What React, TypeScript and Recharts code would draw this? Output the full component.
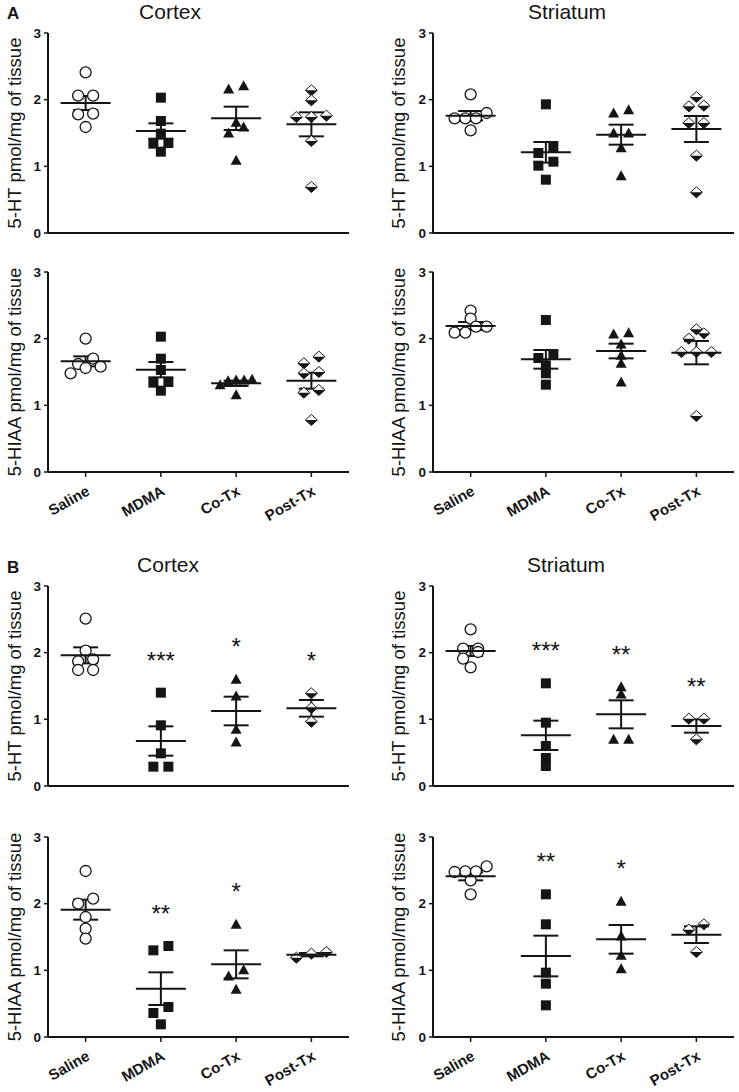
import React from 'react';
import { ScatterChart, Scatter, XAxis, YAxis, ErrorBar } from 'recharts';

document.body.style.margin = '0';

const INK = '#151515';
const FONT = '"Liberation Sans", Arial, sans-serif';

const GROUPS = ['Saline', 'MDMA', 'Co-Tx', 'Post-Tx'];
const Y_TICKS = [0, 1, 2, 3];

// A: cortex 5-HT
const aCortexHT = [
  [2.41, 2.06, 2.06, 1.79, 1.78, 1.59],
  [2.03, 1.68, 1.49, 1.35, 1.34, 1.22],
  [2.16, 2.21, 1.59, 1.66, 1.5, 1.09],
  [2.14, 1.99, 1.76, 1.74, 1.74, 1.38, 0.69],
];
const aCortexHTMean = [1.95, 1.53, 1.72, 1.63];
const aCortexHTSem = [0.105, 0.115, 0.175, 0.18];

// A: striatum 5-HT
const aStriatumHT = [
  [2.08, 1.8, 1.72, 1.72, 1.72, 1.54],
  [1.93, 1.28, 1.2, 1.07, 1.01, 0.8],
  [1.8, 1.85, 1.5, 1.5, 1.28, 0.86],
  [1.91, 1.9, 2.04, 1.65, 1.65, 1.16, 0.61],
];
const aStriatumHTMean = [1.76, 1.21, 1.475, 1.56];
const aStriatumHTSem = [0.07, 0.155, 0.15, 0.195];

// A: cortex 5-HIAA
const aCortexHIAA = [
  [2.0, 1.7, 1.62, 1.58, 1.56, 1.48],
  [2.03, 1.7, 1.53, 1.35, 1.34, 1.22],
  [1.38, 1.39, 1.37, 1.38, 1.31, 1.16],
  [1.63, 1.73, 1.48, 1.5, 1.23, 1.19, 0.78],
];
const aCortexHIAAMean = [1.66, 1.535, 1.33, 1.37];
const aCortexHIAASem = [0.075, 0.115, 0.04, 0.12];

// A: striatum 5-HIAA
const aStriatumHIAA = [
  [2.42, 2.3, 2.18, 2.18, 2.09, 2.09],
  [2.28, 1.71, 1.76, 1.6, 1.48, 1.31],
  [2.09, 2.07, 1.92, 1.75, 1.63, 1.35],
  [2.0, 2.08, 2.14, 1.8, 1.8, 1.8, 0.84],
];
const aStriatumHIAAMean = [2.19, 1.69, 1.815, 1.79];
const aStriatumHIAASem = [0.06, 0.14, 0.11, 0.175];

// B: cortex 5-HT
const bCortexHT = [
  [2.51, 2.03, 1.9, 1.87, 1.74, 1.74],
  [1.4, 0.91, 0.49, 0.29, 0.29],
  [1.6, 1.35, 0.85, 0.66],
  [1.39, 1.17, 0.965],
];
const bCortexHTMean = [1.96, 0.675, 1.125, 1.165];
const bCortexHTSem = [0.12, 0.22, 0.215, 0.125];
const bCortexHTSig = ['', '***', '*', '*'];

// B: striatum 5-HT
const bStriatumHT = [
  [2.35, 2.06, 2.06, 2.01, 1.91, 1.78],
  [1.54, 0.95, 0.6, 0.42, 0.3],
  [1.49, 1.38, 0.7, 0.7],
  [1.01, 1.01, 0.7],
];
const bStriatumHTMean = [2.025, 0.76, 1.075, 0.9];
const bStriatumHTSem = [0.075, 0.22, 0.21, 0.1];
const bStriatumHTSig = ['', '***', '**', '**'];

// B: cortex 5-HIAA
const bCortexHIAA = [
  [2.49, 2.075, 2.0, 1.8, 1.625, 1.475],
  [1.365, 1.3, 0.45, 0.36, 0.19],
  [1.69, 1.01, 0.915, 0.715],
  [1.275, 1.19, 1.25],
];
const bCortexHIAAMean = [1.91, 0.725, 1.09, 1.235];
const bCortexHIAASem = [0.15, 0.245, 0.21, 0.025];
const bCortexHIAASig = ['', '**', '*', ''];

// B: striatum 5-HIAA
const bStriatumHIAA = [
  [2.56, 2.485, 2.475, 2.485, 2.35, 2.14],
  [2.14, 1.69, 0.965, 0.8, 0.475],
  [2.035, 1.515, 1.225, 1.025],
  [1.69, 1.61, 1.275],
];
const bStriatumHIAAMean = [2.41, 1.215, 1.465, 1.535];
const bStriatumHIAASem = [0.06, 0.305, 0.215, 0.125];
const bStriatumHIAASig = ['', '**', '*', ''];

// layout
const PLOT_W = 301;
const PLOT_H = 200;
const AXIS_W = 48;
const MT = 12;
const XH = 64;
const PX_PER_UNIT = PLOT_H / 3;

// scatter-dot spreading: points of similar value share a row, centred on the group
function spread(vals: number[]): number[] {
  const order = vals.map((_, i) => i).sort((a, b) => vals[a] - vals[b]);
  const dx = vals.map(() => 0);
  let row: number[] = [];
  const flush = () => {
    const n = row.length;
    const step = n > 1 ? Math.min(15, 32 / (n - 1)) : 0;
    row.forEach((idx, k) => {
      dx[idx] = (k - (n - 1) / 2) * step;
    });
    row = [];
  };
  order.forEach((i) => {
    if (row.length && (vals[i] - vals[row[0]]) * PX_PER_UNIT > 7) flush();
    row.push(i);
  });
  flush();
  return dx;
}

const Marker = ({ kind, x, y }: { kind: number; x: number; y: number }) => {
  if (kind === 0) return <circle cx={x} cy={y} r={5.5} fill="#fff" stroke={INK} strokeWidth={1.3} />;
  if (kind === 1) return <rect x={x - 5} y={y - 5} width={10} height={10} fill={INK} />;
  if (kind === 2) return <polygon points={`${x},${y - 5.5} ${x + 5.5},${y + 4.5} ${x - 5.5},${y + 4.5}`} fill={INK} />;
  return (
    <g>
      <polygon
        points={`${x},${y - 5.5} ${x + 6},${y} ${x},${y + 5.5} ${x - 6},${y}`}
        fill="#fff"
        stroke={INK}
        strokeWidth={1}
      />
      <polygon points={`${x - 6},${y} ${x + 6},${y} ${x},${y + 5.5}`} fill={INK} />
    </g>
  );
};

const GroupTick = (props: any) => {
  const { x, y, payload } = props;
  const label = GROUPS[Math.round(payload.value - 0.5)];
  const ax = x + 5;
  const ay = y + 15;
  return (
    <text
      x={ax}
      y={ay}
      textAnchor="end"
      transform={`rotate(-30 ${ax} ${ay})`}
      fontFamily={FONT}
      fontWeight="bold"
      fontSize={15}
      fill={INK}
    >
      {label}
    </text>
  );
};

type PanelProps = {
  left: number;
  top: number;
  points: number[][];
  mean: number[];
  sem: number[];
  sig?: string[];
  labels: boolean;
};

const Panel = ({ left, top, points, mean, sem, sig, labels }: PanelProps) => {
  const series = points.map((vals, g) => {
    const dx = spread(vals);
    return vals.map((v, i) => ({ x: g + 0.5, y: v, dx: dx[i] }));
  });
  const means = mean.map((m, g) => ({ x: g + 0.5, y: m, sem: sem[g] }));
  const stars = (sig || [])
    .map((s, g) => ({ x: g + 0.5, y: Math.max(...points[g]) + 0.57, label: s }))
    .filter((d) => d.label);

  return (
    <div style={{ position: 'absolute', left, top: top - MT }}>
      <ScatterChart
        width={AXIS_W + PLOT_W + 4}
        height={MT + PLOT_H + XH + 2}
        margin={{ top: MT, right: 4, bottom: 2, left: 0 }}
      >
        <XAxis
          type="number"
          dataKey="x"
          domain={[0, 4]}
          ticks={[0.5, 1.5, 2.5, 3.5]}
          height={XH}
          tickSize={5}
          axisLine={{ stroke: INK, strokeWidth: 2 }}
          tickLine={{ stroke: INK, strokeWidth: 1.5 }}
          tick={labels ? <GroupTick /> : false}
          interval={0}
        />
        <YAxis
          type="number"
          dataKey="y"
          domain={[0, 3]}
          ticks={Y_TICKS}
          allowDataOverflow
          width={AXIS_W}
          tickSize={4}
          tickMargin={3}
          axisLine={{ stroke: INK, strokeWidth: 2 }}
          tickLine={{ stroke: INK, strokeWidth: 1.5 }}
          tick={{ fontFamily: FONT, fontWeight: 'bold', fontSize: 13.5, fill: INK }}
        />
        {series.map((data, g) => (
          <Scatter
            key={g}
            data={data}
            isAnimationActive={false}
            shape={(p: any) => <Marker kind={g} x={p.cx + p.payload.dx} y={p.cy} />}
          />
        ))}
        <Scatter
          data={means}
          isAnimationActive={false}
          shape={(p: any) => (
            <line x1={p.cx - 25} x2={p.cx + 25} y1={p.cy} y2={p.cy} stroke={INK} strokeWidth={2} />
          )}
        >
          <ErrorBar dataKey="sem" direction="y" width={12.5} stroke={INK} strokeWidth={2} />
        </Scatter>
        {stars.length > 0 && (
          <Scatter
            data={stars}
            isAnimationActive={false}
            shape={(p: any) => (
              <text x={p.cx} y={p.cy + 14} textAnchor="middle" fontFamily={FONT} fontSize={24} fill={INK}>
                {p.payload.label}
              </text>
            )}
          />
        )}
      </ScatterChart>
    </div>
  );
};

const YLabel = ({ x, y, text }: { x: number; y: number; text: string }) => (
  <text
    x={x}
    y={y}
    transform={`rotate(-90 ${x} ${y})`}
    textAnchor="middle"
    dominantBaseline="central"
    fontFamily={FONT}
    fontSize={18.5}
    fill={INK}
  >
    {text}
  </text>
);

const Title = ({ x, y, text }: { x: number; y: number; text: string }) => (
  <text x={x} y={y} textAnchor="middle" fontFamily={FONT} fontSize={21} fill={INK}>
    {text}
  </text>
);

const LEFT_X = 0;
const RIGHT_X = 385;
const ROWS = [33, 272, 586, 837];
const HT_LABEL = '5-HT pmol/mg of tissue';
const HIAA_LABEL = '5-HIAA pmol/mg of tissue';

export default function App() {
  return (
    <div style={{ position: 'relative', width: 739, height: 1092, overflow: 'hidden', background: '#fff' }}>
      <Panel left={LEFT_X} top={ROWS[0]} points={aCortexHT} mean={aCortexHTMean} sem={aCortexHTSem} labels={false} />
      <Panel left={RIGHT_X} top={ROWS[0]} points={aStriatumHT} mean={aStriatumHTMean} sem={aStriatumHTSem} labels={false} />
      <Panel left={LEFT_X} top={ROWS[1]} points={aCortexHIAA} mean={aCortexHIAAMean} sem={aCortexHIAASem} labels />
      <Panel left={RIGHT_X} top={ROWS[1]} points={aStriatumHIAA} mean={aStriatumHIAAMean} sem={aStriatumHIAASem} labels />
      <Panel left={LEFT_X} top={ROWS[2]} points={bCortexHT} mean={bCortexHTMean} sem={bCortexHTSem} sig={bCortexHTSig} labels={false} />
      <Panel left={RIGHT_X} top={ROWS[2]} points={bStriatumHT} mean={bStriatumHTMean} sem={bStriatumHTSem} sig={bStriatumHTSig} labels={false} />
      <Panel left={LEFT_X} top={ROWS[3]} points={bCortexHIAA} mean={bCortexHIAAMean} sem={bCortexHIAASem} sig={bCortexHIAASig} labels />
      <Panel left={RIGHT_X} top={ROWS[3]} points={bStriatumHIAA} mean={bStriatumHIAAMean} sem={bStriatumHIAASem} sig={bStriatumHIAASig} labels />

      <svg width={739} height={1092} style={{ position: 'absolute', left: 0, top: 0, pointerEvents: 'none' }}>
        <text x={7} y={19} fontFamily={FONT} fontWeight="bold" fontSize={17} fill={INK}>A</text>
        <text x={7} y={573} fontFamily={FONT} fontWeight="bold" fontSize={17} fill={INK}>B</text>
        <Title x={170} y={19} text="Cortex" />
        <Title x={567} y={19} text="Striatum" />
        <Title x={168} y={572} text="Cortex" />
        <Title x={566} y={572} text="Striatum" />
        <YLabel x={14} y={ROWS[0] + 100} text={HT_LABEL} />
        <YLabel x={398} y={ROWS[0] + 100} text={HT_LABEL} />
        <YLabel x={14} y={ROWS[1] + 100} text={HIAA_LABEL} />
        <YLabel x={398} y={ROWS[1] + 100} text={HIAA_LABEL} />
        <YLabel x={14} y={ROWS[2] + 100} text={HT_LABEL} />
        <YLabel x={398} y={ROWS[2] + 100} text={HT_LABEL} />
        <YLabel x={14} y={ROWS[3] + 100} text={HIAA_LABEL} />
        <YLabel x={398} y={ROWS[3] + 100} text={HIAA_LABEL} />
      </svg>
    </div>
  );
}
